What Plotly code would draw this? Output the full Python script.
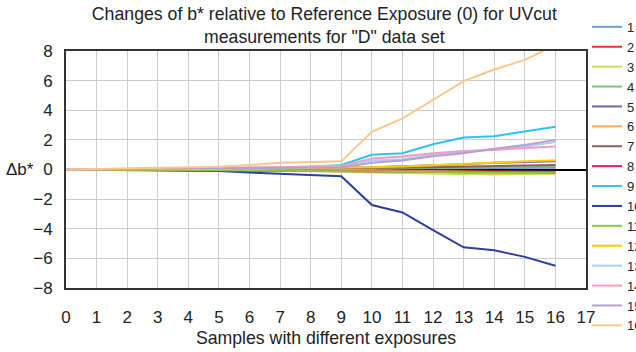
import plotly.graph_objects as go

x_vals = list(range(17))
series_names = [str(i) for i in range(1, 17)]
colors = ["#6C9FD8", "#E8333A", "#C8DD5A", "#7CC576", "#6D63B0", "#FFA95B", "#8C5E5E", "#E4157C",
          "#2BC4F3", "#2E3E9A", "#8DC63F", "#FFCD05", "#A7CFF2", "#F49AC1", "#B79FCF", "#FDC68A"]

s1 = [0, 0, 0, 0, 0, 0.02, 0.03, 0.04, 0.05, 0.05, 0.05, 0.06, 0.07, 0.08, 0.09, 0.1, 0.12]
s2 = [0, 0, -0.02, -0.02, -0.03, -0.04, -0.05, -0.06, -0.07, -0.08, -0.1, -0.12, -0.13, -0.14, -0.15, -0.15, -0.15]
s3 = [0, 0, 0, -0.02, -0.03, -0.05, -0.07, -0.09, -0.1, -0.12, -0.2, -0.24, -0.27, -0.3, -0.33, -0.3, -0.28]
s4 = [0, 0, 0, 0.01, 0.02, 0.03, 0.04, 0.05, 0.05, 0.06, 0.08, 0.1, 0.12, 0.14, 0.16, 0.18, 0.2]
s5 = [0, 0, 0, 0.01, 0.02, 0.03, 0.05, 0.07, 0.08, 0.1, 0.15, 0.2, 0.28, 0.35, 0.45, 0.5, 0.55]
s6 = [0, 0, 0.02, 0.02, 0.03, 0.03, 0.02, 0.0, -0.02, -0.04, -0.08, -0.1, -0.12, -0.15, -0.18, -0.2, -0.22]
s7 = [0, 0, 0, 0.01, 0.02, 0.03, 0.04, 0.05, 0.06, 0.07, 0.1, 0.13, 0.16, 0.2, 0.24, 0.27, 0.3]
s8 = [0, -0.01, -0.02, -0.02, -0.03, -0.04, -0.05, -0.06, -0.07, -0.08, -0.12, -0.14, -0.15, -0.18, -0.2, -0.2, -0.2]
s9 = [0, -0.02, -0.02, 0, 0.02, 0.05, 0.08, 0.12, 0.18, 0.3, 1.0, 1.1, 1.7, 2.16, 2.25, 2.55, 2.88]
s10 = [0, -0.02, -0.03, -0.04, -0.05, -0.1, -0.2, -0.28, -0.38, -0.45, -2.4, -2.9, -4.1, -5.25, -5.45, -5.9, -6.5]
s11 = [0, 0, -0.01, -0.02, -0.03, -0.05, -0.06, -0.08, -0.1, -0.12, -0.15, -0.18, -0.2, -0.22, -0.25, -0.22, -0.2]
s12 = [0, 0, 0.01, 0.02, 0.03, 0.04, 0.05, 0.06, 0.08, 0.1, 0.15, 0.2, 0.3, 0.4, 0.48, 0.55, 0.62]
s13 = [0, 0.02, 0.02, 0.03, 0.04, 0.06, 0.1, 0.15, 0.2, 0.25, 0.6, 0.7, 1.0, 1.2, 1.35, 1.55, 1.85]
s14 = [0, 0.02, 0.03, 0.04, 0.05, 0.08, 0.12, 0.15, 0.18, 0.22, 0.75, 0.88, 1.1, 1.25, 1.32, 1.45, 1.55]
s15 = [0, 0.01, 0.02, 0.03, 0.04, 0.06, 0.08, 0.1, 0.12, 0.14, 0.45, 0.6, 0.9, 1.1, 1.4, 1.65, 2.0]
s16 = [0, 0.03, 0.05, 0.08, 0.1, 0.18, 0.3, 0.45, 0.5, 0.55, 2.55, 3.45, 4.7, 5.97, 6.75, 7.4, 8.4]

all_series = [s1, s2, s3, s4, s5, s6, s7, s8, s9, s10, s11, s12, s13, s14, s15, s16]

x_ticks = list(range(18))
y_ticks = [-8, -6, -4, -2, 0, 2, 4, 6, 8]

fig = go.Figure()
for name, col, ys in zip(series_names, colors, all_series):
    fig.add_trace(go.Scatter(x=x_vals, y=ys, name=name, mode="lines",
                             line=dict(color=col, width=2), cliponaxis=False))

font_main = "Arial, Liberation Sans, sans-serif"
fig.update_layout(
    width=636, height=352,
    margin=dict(l=66, r=50, t=51, b=64, autoexpand=False),
    paper_bgcolor="white", plot_bgcolor="white",
    font=dict(family=font_main, size=17, color="#222"),
    title=dict(text="Changes of b* relative to Reference Exposure (0) for UVcut<br>measurements for \"D\" data set",
               x=0.51, xanchor="center", y=0.943, yanchor="top", yref="container",
               font=dict(size=17.7, color="#222")),
    showlegend=True,
    legend=dict(x=1.002, xanchor="left", y=1.165, yanchor="top",
                font=dict(size=13, color="#222"), bgcolor="rgba(0,0,0,0)",
                tracegroupgap=0, itemwidth=30, maxheight=352),
    xaxis=dict(range=[0, 17], tickvals=x_ticks, ticks="", showgrid=True,
               gridcolor="#CCCCCC", gridwidth=1, showline=True, linecolor="#333",
               linewidth=2, mirror=True, zeroline=False, ticklabelstandoff=13,
               tickfont=dict(size=17),
               title=dict(text="Samples with different exposures", standoff=5,
                          font=dict(size=17.7))),
    yaxis=dict(range=[-8, 8], tickvals=y_ticks, ticks="", showgrid=True,
               gridcolor="#CCCCCC", gridwidth=1, showline=True, linecolor="#333",
               linewidth=2, mirror=True, zeroline=True, zerolinecolor="#000",
               zerolinewidth=2, ticklabelstandoff=8, tickfont=dict(size=17)),
    annotations=[dict(text="Δb*", xref="paper", yref="y", x=-0.088, y=0,
                      xanchor="center", yanchor="middle", showarrow=False,
                      font=dict(size=17, color="#222"))],
)

fig.write_html("out.html")
